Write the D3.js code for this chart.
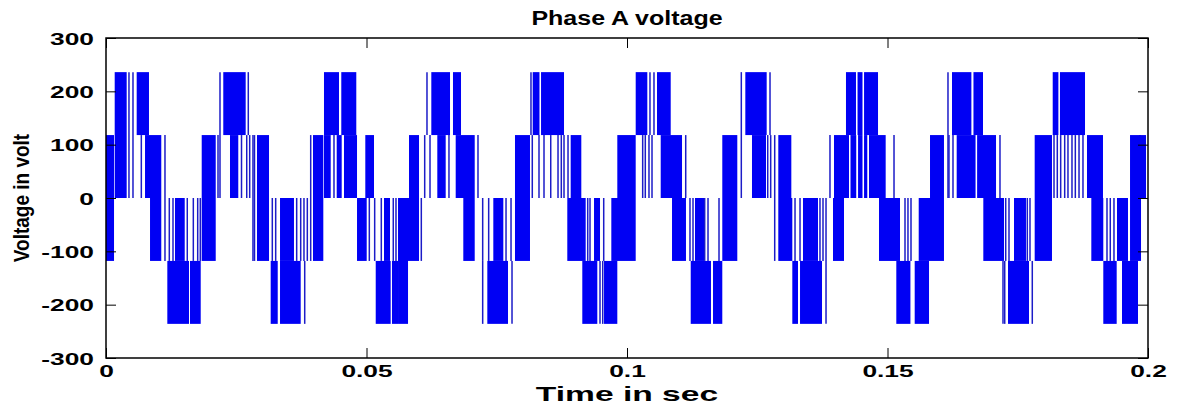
<!DOCTYPE html>
<html>
<head>
<meta charset="utf-8">
<script src="https://cdn.jsdelivr.net/npm/d3@7"></script>
<style>
  body { margin: 0; background: #fff; }
  text { font-family: "Liberation Sans", Arial, sans-serif; font-weight: bold; fill: #000; }
</style>
</head>
<body>
<svg id="chart" width="1177" height="410"></svg>
<script>
// Axis ticks
const xTicks = [0, 0.05, 0.1, 0.15, 0.2];
const yTicks = [-300, -200, -100, 0, 100, 200, 300];

// Dense switching bands: [start ms, end ms, low V, high V]
const blocks = [
  [0, 1.54, -118, 118], [1.67, 3.97, 0, 236], [5.89, 8.25, 118, 236], [7.49, 10.61, 0, 118],
  [8.45, 10.61, -118, 0], [11.77, 15.93, -236, -118], [16.12, 18.18, -236, -118], [13.24, 15.11, -118, 0],
  [18.37, 21.06, -118, 118], [22.51, 26.81, 118, 236], [23.80, 25.39, 0, 118],
  [28.98, 31.29, -118, 118], [31.61, 32.96, -236, -118], [33.40, 37.37, -236, -118], [33.40, 36.08, -118, 0],
  [39.73, 41.71, -118, 118], [41.84, 44.72, 118, 236], [45.16, 48.04, 118, 236], [41.84, 43.13, 0, 118],
  [44.28, 45.24, 0, 118], [45.68, 48.18, 0, 118], [48.18, 50.04, -118, 0], [49.77, 51.44, 0, 118],
  [51.77, 54.64, -236, -118], [54.89, 56.05, -236, -118], [53.36, 54.51, -118, 0], [56.05, 57.97, -236, 0],
  [57.20, 60.08, -118, 0], [58.16, 60.08, 0, 118], [62.44, 66.03, 118, 236], [66.60, 68.14, 118, 236],
  [63.59, 65.20, 0, 118], [67.12, 70.77, 0, 118], [68.58, 70.77, -118, 0], [74.34, 76.26, -118, 0],
  [78.50, 81.38, -118, 118], [73.19, 77.16, -236, -118], [81.9, 83.2, 118, 236], [83.5, 87.91, 118, 236],
  [89.19, 91.23, 0, 118], [88.54, 92.07, -118, 0], [91.42, 94.30, -236, -118], [95.59, 98.14, -236, -118],
  [93.67, 94.82, -118, 0], [96.99, 101.67, -118, 0], [98.14, 101.67, 0, 118], [101.67, 103.90, 118, 236],
  [105.76, 108.39, 118, 236], [106.47, 110.56, 0, 118], [108.64, 111.32, -118, 0], [113.05, 114.78, -118, 0],
  [112.23, 116.12, -236, -118], [116.51, 118.29, -236, -118], [118.29, 121.17, -118, 118],
  [122.71, 126.81, 118, 236], [123.99, 126.68, 0, 118], [129.04, 131.54, 0, 118], [129.04, 131.73, -118, 0],
  [131.73, 132.82, -236, -118], [133.21, 137.43, -236, -118], [133.78, 136.66, -118, 0],
  [139.73, 142.61, 0, 118], [139.54, 141.65, -118, 0], [142.03, 143.95, 118, 236], [144.25, 145.2, 118, 236],
  [145.5, 148.18, 118, 236], [142.9, 144.0, 0, 118], [144.35, 145.2, 0, 118], [145.5, 146.12, 0, 118],
  [146.45, 149.65, 0, 118], [148.37, 152.40, -118, 0], [151.69, 154.40, -236, -118], [155.22, 157.97, -236, -118],
  [155.99, 160.84, -118, 0], [158.16, 160.84, 0, 118], [162.38, 166.1, 118, 236], [166.5, 168.33, 118, 236],
  [163.28, 166.9, 0, 118], [167.2, 170.83, 0, 118], [168.39, 172.36, -118, 0], [173.13, 177.16, -236, -118],
  [174.28, 176.58, -118, 0], [178.25, 181.57, -118, 118], [181.71, 182.8, 118, 236], [183.1, 187.91, 118, 236],
  [188.29, 191.36, 0, 118], [189.12, 191.42, -118, 0], [191.42, 193.99, -236, -118], [194.05, 196.16, -118, 0],
  [195.01, 198.08, -236, -118], [196.55, 198.66, -118, 118], [198.27, 199.62, 0, 118]
];

// Single switching edges: [time ms, low V, high V]
const pulses = [
  [4.41, 0, 236], [5.18, 0, 236], [6.78, 0, 118], [11.32, -118, 118],
  [12.15, -118, 0], [12.86, -118, 0], [15.60, -118, 0], [16.76, -118, 0], [17.60, -118, 0], [18.10, -118, 0],
  [21.50, 0, 118], [21.88, 0, 236], [27.31, 118, 236], [26.01, 0, 118], [27.01, 0, 118], [27.58, 0, 118],
  [28.21, -118, 118], [28.50, -118, 118], [38.14, -236, -118], [31.92, -118, 0], [32.57, -118, 0],
  [36.60, -118, 0], [37.37, -118, 0], [38.00, -118, 0], [38.64, -118, 0], [39.29, -118, 118], [43.76, 0, 118],
  [50.54, -118, 0], [51.57, -118, 0], [52.84, -118, 0], [55.14, -118, 0], [55.66, -118, 0],
  [60.52, -118, 0], [61.61, 118, 236], [61.17, 0, 118], [62.19, 0, 118], [65.83, 0, 118], [71.40, 0, 118],
  [72.30, -118, 0], [73.45, -118, 0], [76.78, -118, 0], [77.74, -118, 0], [72.30, -236, -118], [77.93, -236, -118],
  [81.57, 118, 236], [81.82, 0, 118], [83.11, 0, 118], [84.07, 0, 118], [85.36, 0, 118], [86.76, 0, 118],
  [87.39, 0, 118], [87.91, 0, 118], [88.68, 0, 118],
  [94.82, -236, -118], [95.34, -236, -118], [92.46, -118, 0], [92.90, -118, 0], [95.53, -118, 0],
  [104.41, 118, 236], [105.18, 118, 236], [103.01, 0, 118], [103.51, 0, 118], [104.22, 0, 118], [104.80, 0, 118],
  [111.27, 0, 118], [112.09, -118, 0], [112.67, -118, 0],
  [114.91, -118, 0], [115.55, -118, 0], [117.66, -118, 0], [121.94, 0, 236], [127.45, 118, 236],
  [127.01, 0, 118], [127.58, 0, 118], [128.35, -118, 118],
  [138.20, -236, -118], [132.25, -118, 0], [133.21, -118, 0], [137.04, -118, 0], [137.62, -118, 0],
  [138.20, -118, 0], [138.96, 0, 118],
  [151.25, 0, 118], [153.36, -118, 0], [153.93, -118, 0], [154.51, -118, 0],
  [161.61, 0, 236], [161.80, 0, 118], [162.57, 0, 118], [171.59, 0, 118], [172.17, -236, -118],
  [172.50, -236, -118], [177.79, -236, -118], [172.69, -118, 0], [173.32, -118, 0], [176.83, -118, 0], [177.35, -118, 0],
  [181.96, 0, 118], [182.59, 0, 118], [183.24, 0, 118], [184.01, 0, 118], [184.64, 0, 118], [185.41, 0, 118],
  [186.05, 0, 118], [186.76, 0, 118], [187.52, 0, 118],
  [192.13, -118, 0], [192.76, -118, 0], [193.47, -118, 0]
];

const svg = d3.select('#chart');
const padL = 106, padR = 1148, padT = 38, padB = 358;
const sx = 1.55; // tick labels in the picture look stretched sideways

const x = d3.scaleLinear().domain([0, 0.2]).range([padL, padR]);
const y = d3.scaleLinear().domain([-300, 300]).range([padB, padT]);
const blue = '#0000f4';

// waveform
const plot = svg.append('g');
plot.selectAll('rect.band')
  .data(blocks)
  .enter().append('rect')
  .attr('class', 'band')
  .attr('x', d => x(d[0] / 1000))
  .attr('width', d => Math.max(1, x(d[1] / 1000) - x(d[0] / 1000)))
  .attr('y', d => y(d[3]))
  .attr('height', d => y(d[2]) - y(d[3]))
  .attr('fill', blue);

plot.selectAll('line.edge')
  .data(pulses)
  .enter().append('line')
  .attr('class', 'edge')
  .attr('x1', d => x(d[0] / 1000)).attr('x2', d => x(d[0] / 1000))
  .attr('y1', d => y(d[1])).attr('y2', d => y(d[2]))
  .attr('stroke', '#1c1cc8')
  .attr('stroke-width', 1.5);

// axes, ticks pointing inward on all four sides
function styleAxis(g, noLabels) {
  g.select('.domain').remove();
  g.selectAll('.tick line').attr('stroke', '#000').attr('stroke-width', 1);
  if (noLabels) g.selectAll('.tick text').remove();
}

const xFmt = d => String(d);
svg.append('g')
  .attr('transform', `translate(0,${padB})`)
  .call(d3.axisBottom(x).tickValues(xTicks).tickSizeInner(-10).tickSizeOuter(0).tickPadding(0).tickFormat(xFmt))
  .call(g => styleAxis(g, false))
  .call(g => g.selectAll('.tick text')
    .attr('y', 0).attr('dy', null)
    .attr('transform', `translate(0,19) scale(${sx},1)`)
    .style('font-size', '17px'));

svg.append('g')
  .attr('transform', `translate(0,${padT})`)
  .call(d3.axisTop(x).tickValues(xTicks).tickSizeInner(-10).tickSizeOuter(0))
  .call(g => styleAxis(g, true));

svg.append('g')
  .attr('transform', `translate(${padL},0)`)
  .call(d3.axisLeft(y).tickValues(yTicks).tickSizeInner(-10).tickSizeOuter(0).tickFormat(d => String(d)))
  .call(g => styleAxis(g, false))
  .call(g => g.selectAll('.tick text')
    .attr('x', 0).attr('dy', null)
    .attr('transform', `translate(-12,6) scale(${sx},1)`)
    .style('font-size', '17px'));

svg.append('g')
  .attr('transform', `translate(${padR},0)`)
  .call(d3.axisRight(y).tickValues(yTicks).tickSizeInner(-10).tickSizeOuter(0))
  .call(g => styleAxis(g, true));

// frame
svg.append('rect')
  .attr('x', padL).attr('y', padT)
  .attr('width', padR - padL).attr('height', padB - padT)
  .attr('fill', 'none').attr('stroke', '#000').attr('stroke-width', 1.5);

// titles
svg.append('text')
  .attr('transform', `translate(${(padL + padR) / 2},25) scale(1.25,1)`)
  .attr('text-anchor', 'middle')
  .style('font-size', '20px')
  .text('Phase A voltage');

svg.append('text')
  .attr('transform', `translate(${(padL + padR) / 2},401) scale(1.6,1)`)
  .attr('text-anchor', 'middle')
  .style('font-size', '21px')
  .text('Time in sec');

svg.append('text')
  .attr('transform', `translate(29,${(padT + padB) / 2}) scale(1.2,1) rotate(-90)`)
  .attr('text-anchor', 'middle')
  .style('font-size', '19px')
  .text('Voltage in volt');
</script>
</body>
</html>
